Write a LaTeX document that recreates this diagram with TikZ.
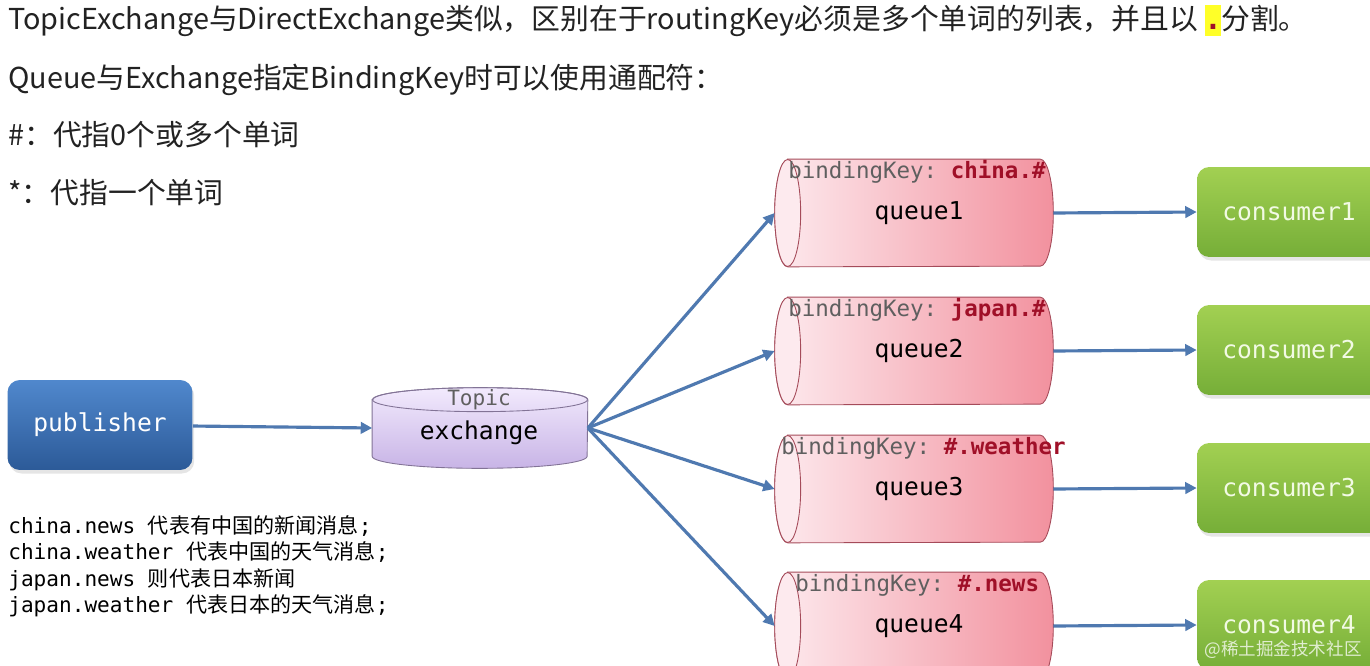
\documentclass[tikz,border=0pt]{standalone}
\usepackage{fontspec}
\setmainfont{Noto Sans CJK SC}
\setmonofont{DejaVu Sans Mono}
\newfontfamily\cjk{Noto Sans CJK SC}
\usepackage{tikz}
\usetikzlibrary{arrows.meta,positioning,shadows}
\definecolor{flowblue}{RGB}{79,121,176}
\definecolor{txtgray}{RGB}{34,34,34}
\definecolor{keygray}{RGB}{95,95,95}
\definecolor{keyred}{RGB}{160,16,40}
\definecolor{hlyellow}{RGB}{255,255,40}
\definecolor{pubtop}{RGB}{80,136,205}
\definecolor{pubbot}{RGB}{44,90,152}
\definecolor{contop}{RGB}{162,208,82}
\definecolor{conbot}{RGB}{118,174,56}
\definecolor{extop}{RGB}{242,234,253}
\definecolor{exbot}{RGB}{200,180,230}
\definecolor{exline}{RGB}{130,115,150}
\definecolor{qleft}{RGB}{253,234,238}
\definecolor{qright}{RGB}{242,145,158}
\definecolor{qline}{RGB}{165,75,90}
\newcommand{\bkey}[1]{{\color{keygray}bindingKey: }{\color{keyred}\bfseries #1}}
% lying cylinder drawn round a box node
\newcommand{\qcyl}[1]{%
  \shadedraw[left color=qleft,right color=qright,draw=qline,line width=0.5pt]
    ([xshift=0.26cm]#1.north west) -- ([xshift=-0.26cm]#1.north east)
    arc[start angle=90,end angle=-90,x radius=0.26cm,y radius=1.07cm]
    -- ([xshift=0.26cm]#1.south west)
    arc[start angle=-90,end angle=-270,x radius=0.26cm,y radius=1.07cm] -- cycle;
  \draw[draw=qline,fill=qleft,line width=0.5pt] ([xshift=0.26cm]#1.west) ellipse[x radius=0.26cm,y radius=1.07cm];}
% standing cylinder drawn round a box node
\newcommand{\ecyl}[1]{%
  \shadedraw[top color=extop,bottom color=exbot,draw=exline,line width=0.5pt]
    ([yshift=-0.24cm]#1.north west) -- ([yshift=0.24cm]#1.south west)
    arc[start angle=180,end angle=360,x radius=2.15cm,y radius=0.24cm]
    -- ([yshift=-0.24cm]#1.north east)
    arc[start angle=0,end angle=180,x radius=2.15cm,y radius=0.24cm] -- cycle;
  \draw[draw=exline,line width=0.5pt] ([yshift=-0.24cm]#1.north) ellipse[x radius=2.15cm,y radius=0.24cm];}

\begin{document}
\begin{tikzpicture}[
    x=0.02cm, y=-0.02cm,
    flow/.style={-{Triangle[length=6.5pt,width=6.5pt]},line width=1.8pt,flowblue},
    note/.style={anchor=base west,inner sep=0pt,text=txtgray,font=\fontsize{16.4pt}{18pt}\selectfont},
    code/.style={anchor=base west,inner sep=0pt,font=\ttfamily\fontsize{12pt}{14pt}\selectfont},
    pub/.style={rectangle,rounded corners=7pt,minimum width=3.7cm,minimum height=1.8cm,
      top color=pubtop,bottom color=pubbot,text=white,font=\ttfamily\fontsize{14pt}{16pt}\selectfont,
      drop shadow={opacity=0.2,shadow xshift=1pt,shadow yshift=-2pt}},
    cons/.style={pub,minimum width=3.68cm,top color=contop,bottom color=conbot,
      text={rgb,255:red,242;green,250;blue,228}},
    exbox/.style={rectangle,minimum width=4.3cm,minimum height=1.6cm,inner sep=0pt},
    qbox/.style={rectangle,minimum width=5.56cm,minimum height=2.14cm,inner sep=0pt},
    keytext/.style={anchor=base west,inner sep=0pt,font=\ttfamily\fontsize{12.8pt}{14pt}\selectfont},
    qname/.style={inner sep=0pt,font=\ttfamily\fontsize{14pt}{16pt}\selectfont}
  ]
  \useasboundingbox (0,0) rectangle (1370,666);
  \clip (0,0) rectangle (1370,666);
  \fill[white] (0,0) rectangle (1370,666);

  %% Notes at the top
  \node[note] (l1) at (8,30) {TopicExchange与DirectExchange类似，区别在于routingKey必须是多个单词的列表，并且以\ {\fboxsep=0pt\colorbox{hlyellow}{\rule[-3.5pt]{0pt}{17.5pt}\makebox[9.5pt]{\textcolor{keyred}{\ttfamily\bfseries .}}}}分割。};
  \node[note] (l2) at (8,88) {Queue与Exchange指定BindingKey时可以使用通配符：};
  \node[note] (l3) at (8,145) {\#：代指0个或多个单词};
  \node[note] (l4) at (8,203) {*：代指一个单词};

  %% Publisher and exchange
  \node[pub] (pub) at (100,425) {publisher};
  \node[exbox] (ex) at (480,428) {};
  \ecyl{ex}
  \node[qname,text=keygray,font=\ttfamily\fontsize{12pt}{14pt}\selectfont] (extype) at (479,400) {Topic};
  \node[qname] (exname) at (479,433) {exchange};
  \draw[flow] (pub) -- (ex.west);

  %% Queues and consumers
  \foreach \i/\y/\key/\kx in {1/213/china.\#/788, 2/351/japan.\#/788, 3/489/\#.weather/781, 4/626/\#.news/795}{
    \node[qbox] (q\i) at (914,\y) {};
    \qcyl{q\i}
    \node[keytext] (k\i) at (\kx,\y-35) {\bkey{\key}};
    \node[qname] (n\i) at (919,\y) {queue\i};
    \node[cons] (c\i) at (1289,\y-1) {consumer\i};
    \draw[flow] (ex.east) -- (q\i.west);
    \draw[flow] (q\i.east) -- (c\i.west);
  }

  %% Routing key examples
  \node[code] (e1) at (8,533) {china.news {\cjk 代表有中国的新闻消息};};
  \node[code] (e2) at (8,559) {china.weather {\cjk 代表中国的天气消息};};
  \node[code] (e3) at (8,586) {japan.news {\cjk 则代表日本新闻}};
  \node[code] (e4) at (8,612) {japan.weather {\cjk 代表日本的天气消息};};

  \node[font=\cjk\fontsize{10pt}{12pt}\selectfont,text=white,opacity=0.75] (mark) at (1283,650) {@稀土掘金技术社区};
\end{tikzpicture}
\end{document}
